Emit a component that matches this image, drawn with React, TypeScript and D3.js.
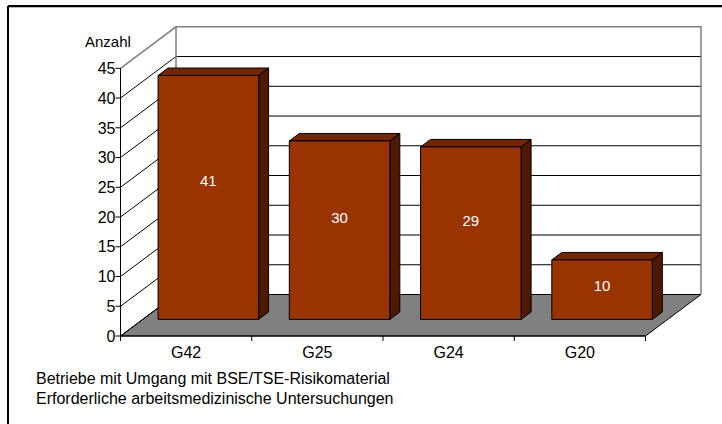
import React from "react";
import * as d3 from "d3";

const categories = ["G42", "G25", "G24", "G20"];
const values = [41, 30, 29, 10];
const yTicks = [0, 5, 10, 15, 20, 25, 30, 35, 40, 45];
const yAxisTitle = "Anzahl";
const footnotes = [
  "Betriebe mit Umgang mit BSE/TSE-Risikomaterial",
  "Erforderliche arbeitsmedizinische Untersuchungen",
];

const W = 722;
const H = 424;
const FONT = "'Liberation Sans', Arial, Helvetica, sans-serif";
const FS = 16;

// 3D geometry
const X0 = 120.5;
const X1 = 645.5;
const Y0 = 336;
const YTOP = 68.3;
const DX = 55.5;
const DY = 41.5;
const BAR_F1 = 0.4;
const BAR_F2 = 0.58;
const BAR_W = 0.766;
const LABEL_FRAC = 0.43;

const FRONT = "#993300";
const TOP = "#732600";
const SIDE = "#4d1a00";
const FLOOR = "#808080";

export default function App() {
  const x = d3.scaleBand<string>().domain(categories).range([X0, X1]).paddingInner(0).paddingOuter(0);
  const y = d3.scaleLinear().domain([0, 45]).range([Y0, YTOP]);
  const step = x.step();
  const bw = step * BAR_W;

  const pt = (px: number, py: number, f: number) => [px + DX * f, py - DY * f];
  const poly = (pts: number[][]) => pts.map((p) => p.join(",")).join(" ");

  const floor = [pt(X0, Y0, 0), pt(X1, Y0, 0), pt(X1, Y0, 1), pt(X0, Y0, 1)];
  const backWall = [pt(X0, YTOP, 1), pt(X1, YTOP, 1), pt(X1, Y0, 1), pt(X0, Y0, 1)];
  const leftWall = [pt(X0, YTOP, 0), pt(X0, YTOP, 1), pt(X0, Y0, 1), pt(X0, Y0, 0)];

  return (
    <svg
      width={W}
      height={H}
      style={{ position: "absolute", left: 0, top: 0, background: "#fff" }}
      fontFamily={FONT}
    >
      {/* frame (cropped: only top and left visible) */}
      <line x1={8} y1={6} x2={W + 5} y2={6} stroke="#000" strokeWidth={2} />
      <line x1={8} y1={6} x2={8} y2={H + 5} stroke="#000" strokeWidth={2} />
      <line x1={9} y1={7.5} x2={W} y2={7.5} stroke="#bbb" strokeWidth={1} />

      {/* walls */}
      <polygon points={poly(backWall)} fill="#fff" />
      <polygon points={poly(leftWall)} fill="#fff" />
      <polygon points={poly(floor)} fill={FLOOR} stroke="#000" strokeWidth={1} />

      {/* gridlines */}
      {yTicks.slice(0, -1).map((t) => {
        const yy = y(t);
        const a = pt(X0, yy, 0);
        const b = pt(X0, yy, 1);
        const c = pt(X1, yy, 1);
        return (
          <g key={"g" + t}>
            <line x1={a[0]} y1={a[1]} x2={b[0]} y2={b[1]} stroke="#000" strokeWidth={1} />
            <line x1={b[0]} y1={b[1]} x2={c[0]} y2={c[1]} stroke="#000" strokeWidth={1} />
          </g>
        );
      })}
      {/* wall outlines */}
      <polyline
        points={poly([pt(X0, YTOP, 0), pt(X0, YTOP, 1), pt(X1, YTOP, 1), pt(X1, Y0, 1)])}
        fill="none"
        stroke="#808080"
        strokeWidth={1.5}
      />
      <line
        x1={pt(X0, YTOP, 1)[0]}
        y1={pt(X0, YTOP, 1)[1]}
        x2={pt(X0, Y0, 1)[0]}
        y2={pt(X0, Y0, 1)[1]}
        stroke="#808080"
        strokeWidth={1.5}
      />

      {/* bars */}
      {categories.map((c, i) => {
        const v = values[i];
        const cx = (x(c) as number) + step / 2;
        const l = cx - bw / 2;
        const r = cx + bw / 2;
        const yt = y(v);
        const fl = pt(l, yt, BAR_F1);
        const fr = pt(r, yt, BAR_F1);
        const frb = pt(r, Y0, BAR_F1);
        const flb = pt(l, Y0, BAR_F1);
        const bl = pt(l, yt, BAR_F2);
        const br = pt(r, yt, BAR_F2);
        const brb = pt(r, Y0, BAR_F2);
        const labelY = fl[1] + (flb[1] - fl[1]) * LABEL_FRAC;
        return (
          <g key={c}>
            <polygon points={poly([fl, fr, br, bl])} fill={TOP} stroke="#000" strokeWidth={1} strokeLinejoin="round" />
            <polygon points={poly([fr, br, brb, frb])} fill={SIDE} stroke="#000" strokeWidth={1} strokeLinejoin="round" />
            <polygon points={poly([fl, fr, frb, flb])} fill={FRONT} stroke="#000" strokeWidth={1} strokeLinejoin="round" />
            <text
              x={(fl[0] + fr[0]) / 2}
              y={labelY + 15 * 0.358}
              textAnchor="middle"
              fontSize={15}
              fill="#fff"
            >
              {v}
            </text>
          </g>
        );
      })}

      {/* y axis */}
      <line x1={X0} y1={YTOP} x2={X0} y2={Y0} stroke="#000" strokeWidth={1} />
      {yTicks.map((t) => (
        <g key={"t" + t}>
          <line x1={X0 - 5} y1={y(t)} x2={X0} y2={y(t)} stroke="#000" strokeWidth={1} />
          <text x={X0 - 5} y={y(t) + FS * 0.358} textAnchor="end" fontSize={FS} fill="#000">
            {t}
          </text>
        </g>
      ))}
      <text x={85} y={46.5} fontSize={15} fill="#000">
        {yAxisTitle}
      </text>

      {/* x axis */}
      <line x1={X0} y1={Y0} x2={X1} y2={Y0} stroke="#000" strokeWidth={1} />
      {[...categories.map((c) => x(c) as number), X1].map((tx, i) => (
        <line key={"xt" + i} x1={tx} y1={Y0} x2={tx} y2={Y0 + 5} stroke="#000" strokeWidth={1} />
      ))}
      {categories.map((c) => (
        <text
          key={"xl" + c}
          x={(x(c) as number) + step / 2}
          y={358.3}
          textAnchor="middle"
          fontSize={FS}
          fill="#000"
        >
          {c}
        </text>
      ))}

      {/* footnotes */}
      {footnotes.map((f, i) => (
        <text key={"f" + i} x={36} y={384.3 + i * 19.2} fontSize={FS} fill="#000">
          {f}
        </text>
      ))}
    </svg>
  );
}
